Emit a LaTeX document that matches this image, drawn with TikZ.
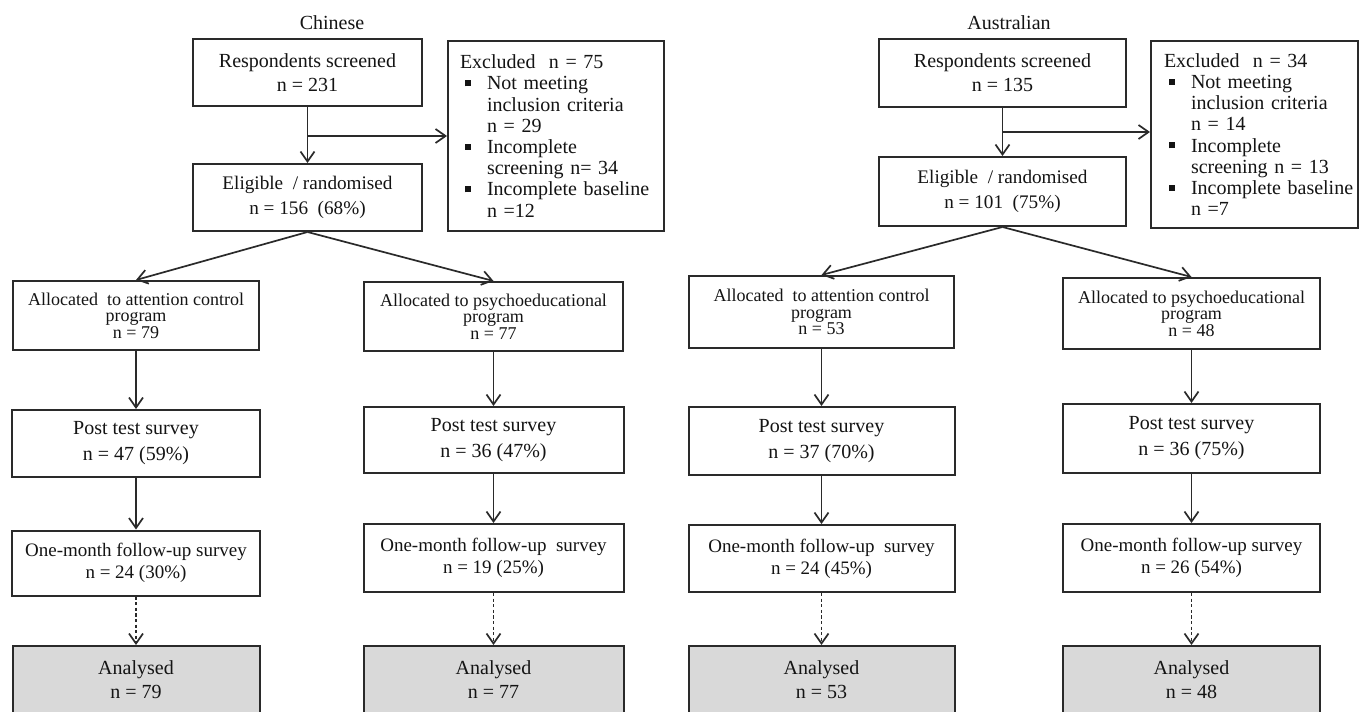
\documentclass[tikz,border=0pt]{standalone}
\usepackage{fontspec}
\setmainfont{Liberation Serif}
\usetikzlibrary{arrows.meta}
\definecolor{ln}{HTML}{2A2A2A}
\definecolor{tx}{HTML}{141414}
\definecolor{anafill}{HTML}{D9D9D9}
\newcommand\exbul{\makebox[13.5pt][l]{\hspace*{2.5pt}\raisebox{1.8pt}{\rule{3pt}{3pt}}}}
\newcommand\exind{\hspace*{13.5pt}}
\tikzset{
  bx/.style={draw=ln, line width=1pt, fill=white, inner sep=0pt, align=center, text=tx},
  fresp/.style={font=\fontsize{10}{12}\selectfont},
  felig/.style={font=\fontsize{9.6}{12.5}\selectfont},
  falloc/.style={font=\fontsize{9}{8.2}\selectfont},
  fpost/.style={font=\fontsize{10}{13}\selectfont},
  fone/.style={font=\fontsize{9.5}{11}\selectfont},
  fexcl/.style={font=\fontsize{10}{10.6}\selectfont, align=left},
  anabox/.style={bx, fill=anafill, anchor=north},
  ttl/.style={text=tx, font=\fontsize{10}{12}\selectfont, inner sep=0pt},
  arr/.style={draw=ln, line width=0.85pt, -{Straight Barb[length=5pt,width=7pt]}},
  darr/.style={arr, dash pattern=on 1.6pt off 1.2pt}
}
\begin{document}
\begin{tikzpicture}[x=0.5pt,y=-0.5pt]
\useasboundingbox[fill=white] (0,0) rectangle (1362,712);

% ---------------- Chinese ----------------
\node[ttl] (cT) at (332,23) {Chinese};
\node[bx, fresp, minimum width=114.5pt, minimum height=33.5pt] (c1) at (307.5,72.5) {Respondents screened\\n = 231};
\node[bx, felig, minimum width=114.5pt, minimum height=33.5pt] (c2) at (307.5,197.5) {Eligible\ \ / randomised\\n = 156\ \ (68\%)};
\node[bx, fexcl, text width=96pt, inner xsep=6pt, minimum height=95pt] (cx) at (556,136)
  {\mbox{Excluded\ \ n = 75}\\
   \mbox{\exbul Not meeting}\\
   \mbox{\exind inclusion criteria}\\
   \mbox{\exind n = 29}\\
   \mbox{\exbul Incomplete}\\
   \mbox{\exind screening n= 34}\\
   \mbox{\exbul Incomplete baseline}\\
   \mbox{\exind n =12}};

\node[bx, falloc, minimum width=123pt, minimum height=34.5pt] (c3a) at (136,315.5) {Allocated\ \ to attention control\\program\\n = 79};
\node[bx, falloc, minimum width=129.5pt, minimum height=34.5pt] (c3b) at (493.5,316.5) {Allocated to psychoeducational\\program\\n = 77};
\node[bx, fpost, minimum width=124pt, minimum height=33.5pt] (c4a) at (136,443.5) {Post test survey\\n = 47 (59\%)};
\node[bx, fpost, minimum width=130pt, minimum height=33pt] (c4b) at (493.5,440) {Post test survey\\n = 36 (47\%)};
\node[bx, fone, minimum width=124pt, minimum height=32.5pt] (c5a) at (136,563) {One-month follow-up survey\\n = 24 (30\%)};
\node[bx, fone, minimum width=130pt, minimum height=34pt] (c5b) at (493.5,558) {One-month follow-up\ \ survey\\n = 19 (25\%)};
\node[anabox, minimum width=123.5pt, minimum height=50pt] (c6a) at (136,645) {};
\node[anabox, minimum width=130pt, minimum height=50pt] (c6b) at (493.5,645) {};
\node[ttl, align=center] (c6at) at (136,680) {Analysed\\n = 79};
\node[ttl, align=center] (c6bt) at (493.5,680) {Analysed\\n = 77};

\draw[arr] (c1.south) -- (c2.north);
\coordinate (cb) at (307.5,136);
\draw[arr] (cb) -- (cb -| cx.west);
\draw[arr] (c2.south) -- (c3a.north);
\draw[arr] (c2.south) -- (c3b.north);
\draw[arr] (c3a.south) -- (c4a.north);
\draw[arr] (c3b.south) -- (c4b.north);
\draw[arr] (c4a.south) -- (c5a.north);
\draw[arr] (c4b.south) -- (c5b.north);
\draw[darr] (c5a.south) -- (c6a.north);
\draw[darr] (c5b.south) -- (c6b.north);

% ---------------- Australian ----------------
\node[ttl] (aT) at (1009,23) {Australian};
\node[bx, fresp, minimum width=123.5pt, minimum height=34pt] (a1) at (1002.5,73) {Respondents screened\\n = 135};
\node[bx, felig, minimum width=123.5pt, minimum height=34.5pt] (a2) at (1002.5,191.5) {Eligible\ \ / randomised\\n = 101\ \ (75\%)};
\node[bx, fexcl, text width=90.5pt, inner xsep=6.5pt, minimum height=93.5pt] (ax) at (1254.5,134.5)
  {\mbox{Excluded\ \ n = 34}\\
   \mbox{\exbul Not meeting}\\
   \mbox{\exind inclusion criteria}\\
   \mbox{\exind n = 14}\\
   \mbox{\exbul Incomplete}\\
   \mbox{\exind screening n = 13}\\
   \mbox{\exbul Incomplete baseline}\\
   \mbox{\exind n =7}};

\node[bx, falloc, minimum width=132.5pt, minimum height=36pt] (a3a) at (821.5,312) {Allocated\ \ to attention control\\program\\n = 53};
\node[bx, falloc, minimum width=128.5pt, minimum height=35.5pt] (a3b) at (1191.5,313.5) {Allocated to psychoeducational\\program\\n = 48};
\node[bx, fpost, minimum width=133pt, minimum height=34pt] (a4a) at (821.5,441) {Post test survey\\n = 37 (70\%)};
\node[bx, fpost, minimum width=128.5pt, minimum height=34.5pt] (a4b) at (1191.5,438.5) {Post test survey\\n = 36 (75\%)};
\node[bx, fone, minimum width=133pt, minimum height=33.5pt] (a5a) at (821.5,558.5) {One-month follow-up\ \ survey\\n = 24 (45\%)};
\node[bx, fone, minimum width=128.5pt, minimum height=34pt] (a5b) at (1191.5,558) {One-month follow-up survey\\n = 26 (54\%)};
\node[anabox, minimum width=133pt, minimum height=50pt] (a6a) at (821.5,645) {};
\node[anabox, minimum width=128.5pt, minimum height=50pt] (a6b) at (1191.5,645) {};
\node[ttl, align=center] (a6at) at (821.5,680) {Analysed\\n = 53};
\node[ttl, align=center] (a6bt) at (1191.5,680) {Analysed\\n = 48};

\draw[arr] (a1.south) -- (a2.north);
\coordinate (ab) at (1002.5,132);
\draw[arr] (ab) -- (ab -| ax.west);
\draw[arr] (a2.south) -- (a3a.north);
\draw[arr] (a2.south) -- (a3b.north);
\draw[arr] (a3a.south) -- (a4a.north);
\draw[arr] (a3b.south) -- (a4b.north);
\draw[arr] (a4a.south) -- (a5a.north);
\draw[arr] (a4b.south) -- (a5b.north);
\draw[darr] (a5a.south) -- (a6a.north);
\draw[darr] (a5b.south) -- (a6b.north);
\end{tikzpicture}
\end{document}
